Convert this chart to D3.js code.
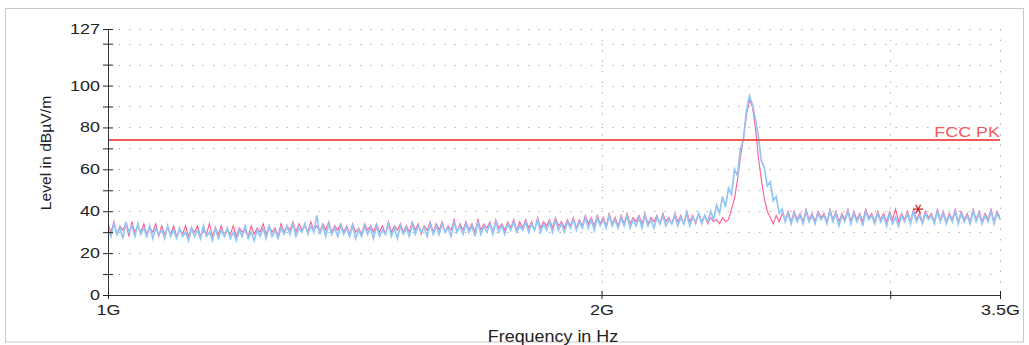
<!DOCTYPE html>
<html><head><meta charset="utf-8">
<script src="https://cdn.jsdelivr.net/npm/d3@7"></script>
<style>body{margin:0;background:#fff}svg{display:block}text{font-family:"Liberation Sans",Arial,sans-serif}</style>
</head><body><svg id="c" width="1029" height="345"></svg>
<script>
// Sweep 1 GHz .. 3.5 GHz, points equally spaced on the log axis
const sweepStart = 1e9, sweepStop = 3.5e9;
const xTicks = [1e9, 2e9, 3e9, 3.5e9];
const xTickLabels = ["1G", "2G", "", "3.5G"];
const yTicks = [0,10,20,30,40,50,60,70,80,90,100,110,120,127];
const yTickLabels = {0:"0",20:"20",40:"40",60:"60",80:"80",100:"100",127:"127"};
const limitLevel = 74;
const limitName = "FCC PK";
const markerFreq = 3.12e9, markerLevel = 41;

// Trace 2 (light blue) levels, dBµV/m
const blueTrace = [
33,28,34,29,32,27,35,30,33,28, 34,29,32,28,33,27,32,29,31,27,
33,28,31,27,32,28,30,26,32,28, 31,27,33,28,30,26,32,27,31,28,
32,27,30,26,31,28,33,27,30,26, 31,28,32,27,33,28,31,27,32,29,
33,29,34,28,32,30,34,29,33,30, 38,29,33,28,34,29,32,28,33,29,
32,28,33,27,31,28,33,29,32,27, 33,28,31,29,34,28,32,27,33,29,
32,28,34,29,33,30,32,28,34,29, 33,29,34,30,32,28,35,30,33,29,
34,30,33,28,35,29,33,30,34,29, 35,30,33,29,34,31,35,30,33,31,
35,30,34,31,36,30,34,31,35,30, 36,31,34,30,35,32,36,31,35,32,
37,32,36,31,37,33,36,32,38,33, 36,32,37,33,38,32,36,33,37,32,
38,33,36,32,37,34,38,33,36,34, 38,33,37,34,39,33,37,35,39,34,
38,35,40,36,43,39,47,42,51,48, 60,57,70,74,88,95,91,84,76,64,
61,52,54,45,47,39,41,35,39,34, 39,35,38,34,40,35,38,34,39,36,
38,34,40,35,39,33,38,35,40,34, 39,35,38,33,40,36,38,34,39,35,
38,33,39,34,37,33,38,35,39,34, 40,35,38,34,39,36,38,34,40,35,
39,34,38,35,40,34,39,35,38,34, 40,35,39,34,38,35,40,34,39,36
];
// Trace 1 (pink) levels, dBµV/m
const pinkTrace = [
34,30,35,29,33,31,34,28,35,30, 33,30,34,29,32,30,34,28,33,29,
32,29,33,28,31,29,33,28,32,30, 33,28,31,29,34,28,32,29,33,28,
31,29,33,28,32,30,31,28,33,29, 32,30,34,29,33,30,32,28,34,30,
33,31,35,30,34,31,33,30,35,31, 33,30,34,31,35,30,33,31,34,30,
33,29,34,30,32,29,34,31,33,30, 34,30,33,29,35,30,33,31,34,30,
33,30,35,31,34,29,33,31,35,30, 34,31,35,30,33,31,36,30,34,31,
35,31,34,30,36,31,34,32,35,30, 36,32,34,31,35,32,36,31,35,32,
36,32,35,31,37,32,35,33,36,32, 37,33,35,32,36,33,37,32,36,33,
38,34,37,33,38,34,37,33,39,34, 37,33,38,34,39,34,37,35,38,34,
39,34,37,35,38,34,39,35,37,34, 39,35,38,34,40,35,38,34,39,35,
38,34,37,35,36,34,37,35,36,41, 46,55,66,75,86,93,90,80,66,55,
46,40,37,34,38,35,39,36,40,35, 40,36,39,35,41,36,39,35,40,37,
39,35,41,36,40,35,39,36,41,35, 40,36,39,35,41,37,39,35,40,36,
39,35,40,36,41,35,39,36,40,35, 41,36,39,35,40,37,39,35,41,36,
40,35,39,36,41,35,40,36,39,35, 41,36,40,35,39,36,41,35,40,37
];

const svg = d3.select("#c");
const L = 108, R = 1000, T = 29, B = 295;
const x = d3.scaleLog().domain([sweepStart, sweepStop]).range([L, R]);
const y = d3.scaleLinear().domain([0, 127]).range([B, T]);
const STRETCH = 1.28;

function stretch(sel, k) {
  sel.each(function(){ const w = this.getComputedTextLength(); if (w > 0) { this.setAttribute("textLength", w * k); this.setAttribute("lengthAdjust", "spacingAndGlyphs"); } });
}

// outer frame
svg.append("rect").attr("x", 5.5).attr("y", 8.5).attr("width", 1018).attr("height", 333.5)
  .attr("fill", "none").attr("stroke", "#c8c8c8");

// grid
const grid = svg.append("g").attr("stroke", "#b4b4b4").attr("stroke-width", 1).attr("stroke-dasharray", "1.5,9");
grid.selectAll("line.h").data(yTicks.filter(d => d > 0)).join("line")
  .attr("x1", L).attr("x2", R).attr("y1", d => Math.round(y(d)) + 0.5).attr("y2", d => Math.round(y(d)) + 0.5);
grid.selectAll("line.v").data(xTicks.slice(1)).join("line")
  .attr("y1", T).attr("y2", B).attr("x1", d => Math.round(x(d)) + 0.5).attr("x2", d => Math.round(x(d)) + 0.5);

// traces
svg.append("clipPath").attr("id", "pc").append("rect").attr("x", L).attr("y", T).attr("width", R - L).attr("height", B - T);
const fAt = (i, n) => sweepStart * Math.pow(sweepStop / sweepStart, i / (n - 1));
const line = d3.line().x((d, i, a) => x(fAt(i, a.length))).y(d => y(d));
const plot = svg.append("g").attr("clip-path", "url(#pc)");
plot.append("path").attr("d", line(pinkTrace)).attr("fill", "none").attr("stroke", "#ff5c92").attr("stroke-width", 1.1);
plot.append("path").attr("d", line(blueTrace)).attr("fill", "none").attr("stroke", "#93c6f6").attr("stroke-width", 1.7);

// limit line
svg.append("line").attr("x1", L).attr("x2", R).attr("y1", y(limitLevel)).attr("y2", y(limitLevel))
  .attr("stroke", "#f05a5a").attr("stroke-width", 2);
svg.append("text").attr("x", R).attr("y", y(limitLevel) - 3).attr("text-anchor", "end")
  .attr("font-size", 14).attr("fill", "#f05a5a").text(limitName).call(stretch, STRETCH);

// marker
svg.append("path").attr("d", d3.symbol(d3.symbolAsterisk, 70)())
  .attr("transform", `translate(${x(markerFreq)},${y(markerLevel)}) rotate(90)`)
  .attr("stroke", "#d02020").attr("stroke-width", 1.3).attr("fill", "none");

// axes
const yAxis = d3.axisLeft(y).tickValues(yTicks).tickSize(5).tickSizeOuter(0)
  .tickFormat(d => yTickLabels[d] || "");
const gy = svg.append("g").attr("transform", `translate(${L},0)`).call(yAxis);
gy.select(".domain").attr("stroke", "#333");
gy.selectAll(".tick line").attr("stroke", "#222").attr("x2", 5).attr("x1", -5);
gy.selectAll(".tick text").attr("x", -8).attr("font-size", 14).attr("fill", "#222").attr("font-family", null).call(stretch, STRETCH);

const xAxis = d3.axisBottom(x).tickValues(xTicks).tickSize(5).tickSizeOuter(0)
  .tickFormat((d, i) => xTickLabels[i]);
const gx = svg.append("g").attr("transform", `translate(0,${B})`).call(xAxis);
gx.select(".domain").attr("stroke", "#333");
gx.selectAll(".tick line").attr("stroke", "#222").attr("y1", -4).attr("y2", 4);
gx.selectAll(".tick text").attr("y", 10).attr("font-size", 14).attr("fill", "#222").attr("font-family", null).call(stretch, STRETCH);

// titles
svg.append("text").attr("x", 553).attr("y", 342).attr("text-anchor", "middle")
  .attr("font-size", 16).attr("fill", "#222").text("Frequency in Hz").call(stretch, 1.12);
svg.append("text").attr("transform", "translate(51,153) rotate(-90)").attr("text-anchor", "middle")
  .attr("font-size", 14).attr("fill", "#222").text("Level in dBµV/m").call(stretch, 1.12);
</script></body></html>
